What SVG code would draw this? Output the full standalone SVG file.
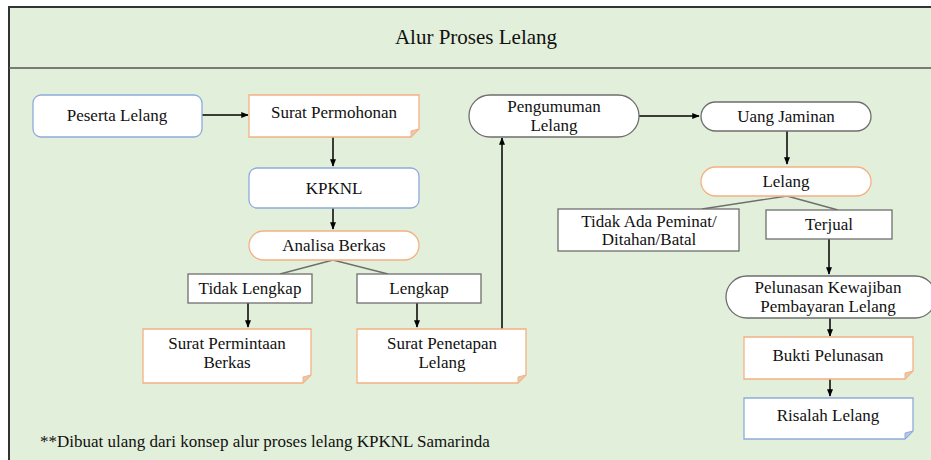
<svg xmlns="http://www.w3.org/2000/svg" width="931" height="460" viewBox="0 0 931 460">
<style>
text{font-family:'Liberation Serif','Times New Roman',serif;font-size:17px;fill:#111;text-anchor:middle}
.title{font-size:21px}
.foot{text-anchor:start}
.blue{fill:#fff;stroke:#8FAADC;stroke-width:1.3}
.orange{fill:#fff;stroke:#F4B183;stroke-width:1.3}
.gray{fill:#fff;stroke:#6E6E6E;stroke-width:1.3}
.foldo{fill:#E8C8AE;stroke:#F4B183;stroke-width:1}
.foldb{fill:#B4C7E7;stroke:#8FAADC;stroke-width:1}
.c{stroke:#000;stroke-width:1.5;fill:none}
.split{stroke:#6E6E6E;stroke-width:1.3;fill:none}
</style>
<defs>
<marker id="ah" viewBox="0 0 10 10" refX="9" refY="5" markerWidth="5" markerHeight="5" orient="auto"><path d="M0,1 L10,5 L0,9 z" fill="#000"/></marker>
</defs>
<rect x="0" y="0" width="931" height="460" fill="#fff"/>
<rect x="9" y="7" width="940" height="470" fill="#E2EFDA" stroke="#333" stroke-width="2"/>
<line x1="9" y1="68" x2="931" y2="68" stroke="#555" stroke-width="1.5"/>
<text class="title" x="476" y="44">Alur Proses Lelang</text>

<g id="connectors">
<line class="c" x1="202" y1="115" x2="248" y2="115" marker-end="url(#ah)"/>
<line class="c" x1="333" y1="137" x2="333" y2="166" marker-end="url(#ah)"/>
<line class="c" x1="333" y1="208" x2="333" y2="229" marker-end="url(#ah)"/>
<polyline class="split" points="280,274 333,260 388,274"/>
<line class="c" x1="248" y1="303" x2="248" y2="327" marker-end="url(#ah)"/>
<line class="c" x1="417" y1="303" x2="417" y2="327" marker-end="url(#ah)"/>
<line class="c" x1="502" y1="329" x2="502" y2="138" marker-end="url(#ah)"/>
<line class="c" x1="639" y1="116" x2="699" y2="116" marker-end="url(#ah)"/>
<line class="c" x1="787" y1="131" x2="787" y2="164" marker-end="url(#ah)"/>
<polyline class="split" points="702,209 787,196 838,210"/>
<line class="c" x1="829" y1="239" x2="829" y2="274" marker-end="url(#ah)"/>
<line class="c" x1="830" y1="318" x2="830" y2="336" marker-end="url(#ah)"/>
<line class="c" x1="830" y1="379" x2="830" y2="396" marker-end="url(#ah)"/>
</g>

<g id="peserta"><rect class="blue" x="33" y="95" width="169" height="42" rx="8"/><text x="117" y="121">Peserta Lelang</text></g>
<g id="surat-permohonan"><path class="orange" d="M249,95 H419 V129 L411,137 H249 Z"/><path class="foldo" d="M419,129 L411,131 L411,137 Z"/><text x="334" y="118">Surat Permohonan</text></g>
<g id="kpknl"><rect class="blue" x="249" y="168" width="170" height="40" rx="8"/><text x="334" y="194">KPKNL</text></g>
<g id="analisa"><rect class="orange" x="249" y="231" width="170" height="29" rx="14.5"/><text x="334" y="251">Analisa Berkas</text></g>
<g id="tidak-lengkap"><rect class="gray" x="188" y="274" width="124" height="29"/><text x="250" y="294">Tidak Lengkap</text></g>
<g id="lengkap"><rect class="gray" x="357" y="274" width="124" height="29"/><text x="419" y="294">Lengkap</text></g>
<g id="surat-permintaan"><path class="orange" d="M143,329 H311 V375 L303,383 H143 Z"/><path class="foldo" d="M311,375 L303,377 L303,383 Z"/><text x="227" y="349">Surat Permintaan</text><text x="227" y="368">Berkas</text></g>
<g id="surat-penetapan"><path class="orange" d="M357,329 H526 V375 L518,383 H357 Z"/><path class="foldo" d="M526,375 L518,377 L518,383 Z"/><text x="442" y="349">Surat Penetapan</text><text x="442" y="368">Lelang</text></g>
<g id="pengumuman"><rect class="gray" x="469" y="95" width="170" height="42" rx="21"/><text x="554" y="112">Pengumuman</text><text x="554" y="131">Lelang</text></g>
<g id="uang-jaminan"><rect class="gray" x="701" y="102" width="170" height="29" rx="14.5"/><text x="786" y="122">Uang Jaminan</text></g>
<g id="lelang"><rect class="orange" x="701" y="167" width="170" height="29" rx="14.5"/><text x="786" y="187">Lelang</text></g>
<g id="tidak-ada"><rect class="gray" x="558" y="209" width="181" height="42"/><text x="649" y="227">Tidak Ada Peminat/</text><text x="649" y="245">Ditahan/Batal</text></g>
<g id="terjual"><rect class="gray" x="766" y="210" width="126" height="29"/><text x="829" y="230">Terjual</text></g>
<g id="pelunasan"><rect class="gray" x="726" y="276" width="210" height="42" rx="21"/><text x="828" y="293">Pelunasan Kewajiban</text><text x="828" y="312">Pembayaran Lelang</text></g>
<g id="bukti"><path class="orange" d="M744,337 H913 V371 L905,379 H744 Z"/><path class="foldo" d="M913,371 L905,373 L905,379 Z"/><text x="828" y="361">Bukti Pelunasan</text></g>
<g id="risalah"><path class="blue" d="M744,398 H913 V431 L905,439 H744 Z"/><path class="foldb" d="M913,431 L905,433 L905,439 Z"/><text x="828" y="421">Risalah Lelang</text></g>

<text class="foot" x="40" y="447">**Dibuat ulang dari konsep alur proses lelang KPKNL Samarinda</text>
</svg>
